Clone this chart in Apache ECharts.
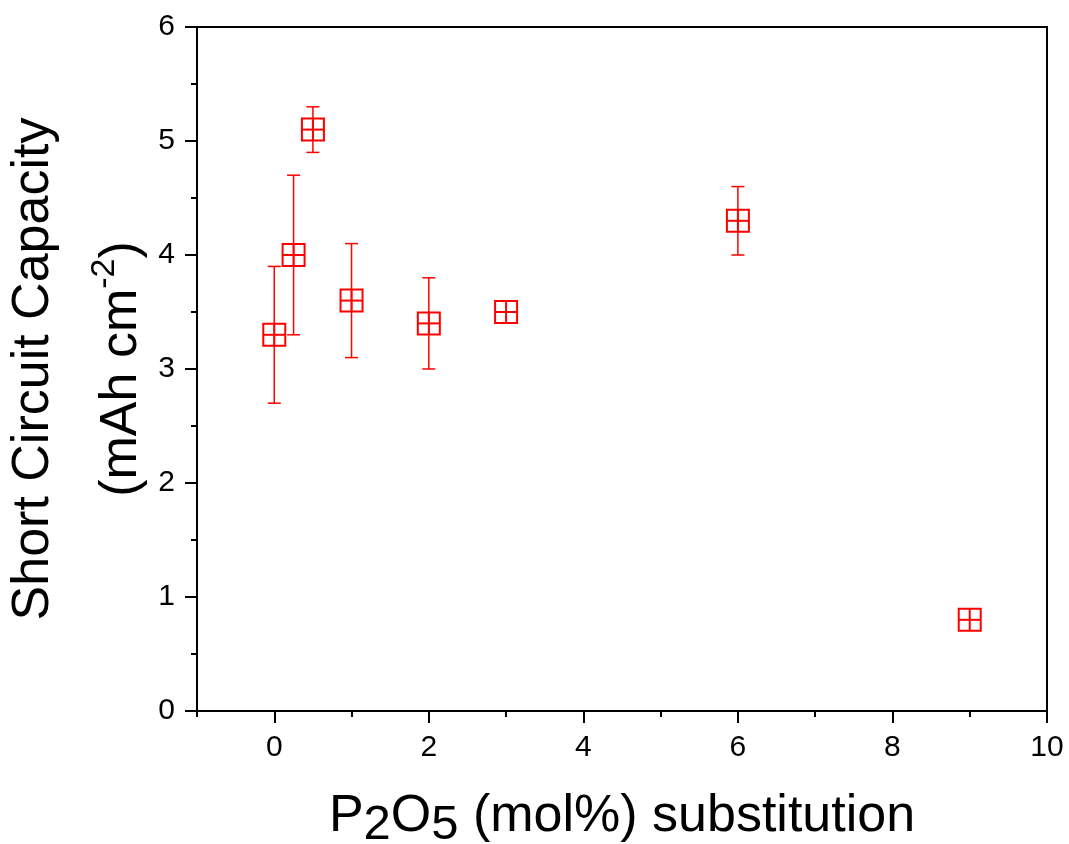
<!DOCTYPE html>
<html>
<head>
<meta charset="utf-8">
<script src="https://cdn.jsdelivr.net/npm/echarts@6/dist/echarts.min.js"></script>
<style>html,body{margin:0;padding:0;background:#fff}#c{width:1069px;height:844px}</style>
</head>
<body>
<div id="c"></div>
<script>
const xValues = [0, 0.25, 0.5, 1, 2, 3, 6, 9];
const yValues = [3.3, 4.0, 5.1, 3.6, 3.4, 3.5, 4.3, 0.8];
const yErrors = [0.6, 0.7, 0.2, 0.5, 0.4, 0, 0.3, 0];
const xTickLabels = [0, 2, 4, 6, 8, 10];
const xMinorTicks = [-1, 1, 3, 5, 7, 9];

const FONT = '"Liberation Sans", Arial, sans-serif';
const RED = '#ff0000';
const data = xValues.map((x, i) => [x, yValues[i], yErrors[i]]);

const chart = echarts.init(document.getElementById('c'), null, {renderer: 'canvas'});
chart.setOption({
  backgroundColor: '#fff',
  animation: false,
  grid: {left: 197, right: 22, top: 27, bottom: 133, show: true, borderColor: '#000', borderWidth: 2, backgroundColor: 'transparent', containLabel: false, outerBoundsMode: 'none'},
  xAxis: [{
    type: 'value', min: -1, max: 10,
    axisLine: {show: true, onZero: false, lineStyle: {color: '#000', width: 2}},
    axisTick: {show: true, inside: false, length: 12, lineStyle: {color: '#000', width: 2}, customValues: xTickLabels},
    axisLabel: {show: true, customValues: xTickLabels, fontFamily: FONT, fontSize: 30, color: '#000', margin: 22},
    splitLine: {show: false},
    name: '{m|P}{s|2}{m|O}{s|5}{m| (mol%) substitution}',
    nameLocation: 'middle', nameGap: 80,
    nameTextStyle: {rich: {
      m: {fontFamily: FONT, fontSize: 52, color: '#000', verticalAlign: 'top', lineHeight: 56},
      s: {fontFamily: FONT, fontSize: 49, color: '#000', verticalAlign: 'top', lineHeight: 56, padding: [10, 0, 0, 0]}
    }}
  }, {
    type: 'value', min: -1, max: 10, position: 'bottom',
    axisLine: {show: false},
    axisTick: {show: true, inside: false, length: 6, lineStyle: {color: '#000', width: 2}, customValues: xMinorTicks},
    axisLabel: {show: false},
    splitLine: {show: false}
  }],
  yAxis: {
    type: 'value', min: 0, max: 6, interval: 1,
    axisLine: {show: true, onZero: false, lineStyle: {color: '#000', width: 2}},
    axisTick: {show: true, inside: false, length: 12, lineStyle: {color: '#000', width: 2}},
    minorTick: {show: true, splitNumber: 2, length: 6, lineStyle: {color: '#000', width: 2}},
    axisLabel: {fontFamily: FONT, fontSize: 30, color: '#000', margin: 22},
    splitLine: {show: false},
    name: '{m|Short Circuit Capacity}\n{m|(mAh cm}{p|-2}{m|)}',
    nameLocation: 'middle', nameRotate: 90, nameGap: 43,
    nameTextStyle: {align: 'center', rich: {
      m: {fontFamily: FONT, fontSize: 52, color: '#000', lineHeight: 88, verticalAlign: 'bottom'},
      p: {fontFamily: FONT, fontSize: 34, color: '#000', lineHeight: 88, verticalAlign: 'bottom', padding: [0, 0, 26, 0]}
    }}
  },
  series: [{
    type: 'custom',
    xAxisIndex: 0, yAxisIndex: 0,
    data: data,
    encode: {x: 0, y: 1},
    renderItem: function (params, api) {
      const x = api.value(0), y = api.value(1), e = api.value(2);
      const c = api.coord([x, y]);
      const children = [];
      const h = 11, cap = 6.5;
      if (e > 0) {
        const top = api.coord([x, y + e]);
        const bot = api.coord([x, y - e]);
        const ls = {stroke: RED, lineWidth: 1.5};
        children.push({type: 'line', shape: {x1: c[0], y1: top[1], x2: c[0], y2: bot[1]}, style: ls});
        children.push({type: 'line', shape: {x1: c[0] - cap, y1: top[1], x2: c[0] + cap, y2: top[1]}, style: ls});
        children.push({type: 'line', shape: {x1: c[0] - cap, y1: bot[1], x2: c[0] + cap, y2: bot[1]}, style: ls});
      }
      const ms = {stroke: RED, lineWidth: 2, fill: null};
      children.push({type: 'rect', shape: {x: c[0] - h, y: c[1] - h, width: 2 * h, height: 2 * h}, style: {stroke: RED, lineWidth: 2, fill: 'rgba(0,0,0,0)'}});
      children.push({type: 'line', shape: {x1: c[0] - h, y1: c[1], x2: c[0] + h, y2: c[1]}, style: ms});
      children.push({type: 'line', shape: {x1: c[0], y1: c[1] - h, x2: c[0], y2: c[1] + h}, style: ms});
      return {type: 'group', children: children};
    }
  }]
});
</script>
</body>
</html>
